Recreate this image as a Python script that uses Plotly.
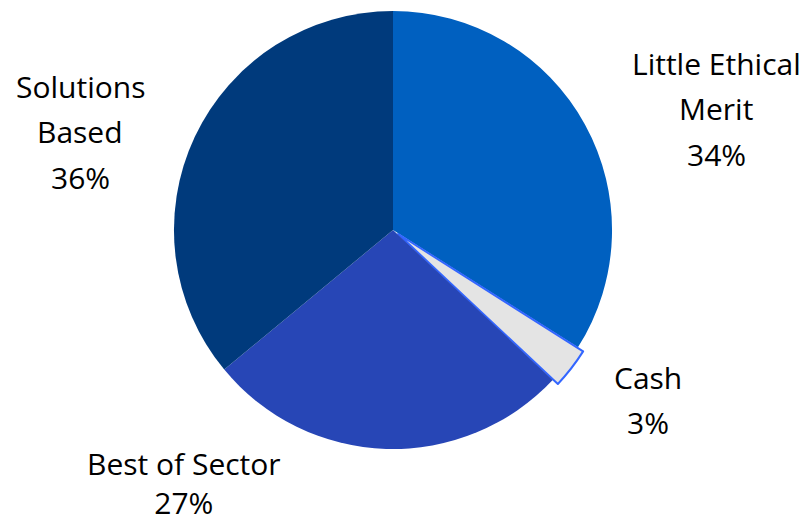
import plotly.graph_objects as go

labels = ["Little Ethical Merit", "Cash", "Best of Sector", "Solutions Based"]
values = [34, 3, 27, 36]
label_lines = [["Little Ethical", "Merit"], ["Cash"], ["Best of Sector"], ["Solutions", "Based"]]

colors = ["#0060C0", "#E4E4E4", "#2746B6", "#003A7C"]
line_colors = ["#0060C0", "#3366FF", "#2746B6", "#003A7C"]
line_widths = [0, 2, 0, 0]
pulls = [0, 0.03, 0, 0]

cx, cy, half = 393, 230, 225.6
fig = go.Figure(go.Pie(
    labels=labels, values=values, sort=False, direction="clockwise", rotation=0,
    marker=dict(colors=colors, line=dict(color=line_colors, width=line_widths)),
    pull=pulls, textinfo="none", hoverinfo="label+percent", showlegend=False,
    domain=dict(x=[(cx-half)/808, (cx+half)/808], y=[1-(cy+half)/524, 1-(cy-half)/524]),
))

# label anchors (pixel centre of first line) for each slice
anchors = [(716, 63), (648, 377), (184, 466), (80, 86)]
line_gap = 45.5
total = sum(values)
font = dict(family="Open Sans", size=30, color="#000000")
ann = []
for name_lines, v, (ax, ay) in zip(label_lines, values, anchors):
    lines = name_lines + [f"{round(100*v/total)}%"]
    if ay + (len(lines)-1)*line_gap > 500:
        # label sits at the bottom edge: one block anchored to the bottom
        ann.append(dict(text="<br>".join(lines), x=ax/808, y=0, xref="paper", yref="paper",
                        xanchor="center", yanchor="bottom", showarrow=False, borderpad=0,
                        font=font))
        continue
    for i, t in enumerate(lines):
        yy = ay + i*line_gap
        ann.append(dict(
            text=t, x=ax/808, y=1-yy/524, xref="paper", yref="paper",
            xanchor="center", yanchor="middle", showarrow=False, borderpad=0, font=font,
        ))

fig.update_layout(
    width=808, height=524, margin=dict(l=0, r=0, t=0, b=0),
    paper_bgcolor="white", plot_bgcolor="white", annotations=ann,
)
fig.write_html("out.html")
